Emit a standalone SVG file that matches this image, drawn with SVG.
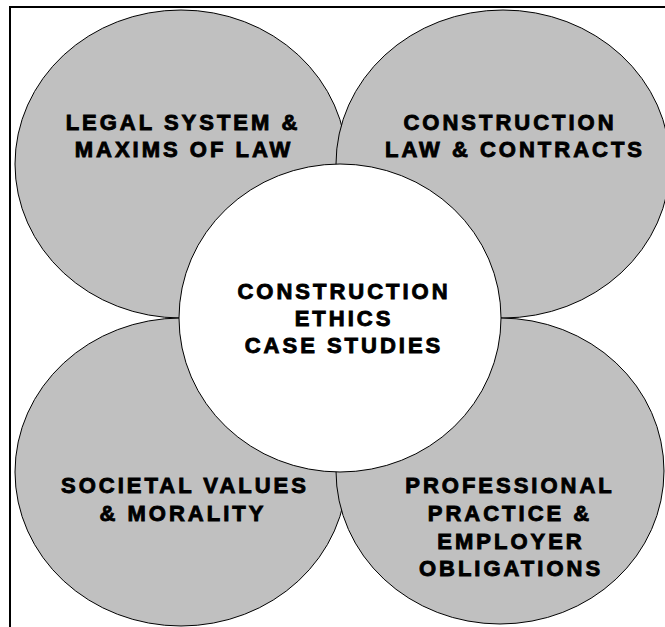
<svg xmlns="http://www.w3.org/2000/svg" width="665" height="627" viewBox="0 0 665 627">
<style>
.c{fill:#c0c0c0;stroke:#000;stroke-width:1}
.m{fill:#fff;stroke:#000;stroke-width:1}
.t{font-family:"Liberation Sans",Arial,sans-serif;font-weight:bold;font-size:22px;letter-spacing:3px;text-anchor:middle;fill:#000;stroke:#000;stroke-width:0.9}
</style>
<rect x="0" y="0" width="665" height="627" fill="#fff"/>
<rect x="10" y="7" width="700" height="700" fill="none" stroke="#000" stroke-width="2"/>
<g id="legal">
<ellipse class="c" cx="181" cy="164" rx="166" ry="154"/>
<text class="t" x="183" y="130">LEGAL SYSTEM &amp;</text>
<text class="t" x="184" y="157">MAXIMS OF LAW</text>
</g>
<g id="construction-law">
<ellipse class="c" cx="503" cy="164" rx="167" ry="154"/>
<text class="t" x="510" y="130">CONSTRUCTION</text>
<text class="t" x="515" y="157">LAW &amp; CONTRACTS</text>
</g>
<g id="societal">
<ellipse class="c" cx="181" cy="472" rx="166" ry="154"/>
<text class="t" x="185" y="493">SOCIETAL VALUES</text>
<text class="t" x="183" y="521">&amp; MORALITY</text>
</g>
<g id="professional">
<ellipse class="c" cx="500" cy="471" rx="164" ry="153"/>
<text class="t" x="510" y="493">PROFESSIONAL</text>
<text class="t" x="510" y="521">PRACTICE &amp;</text>
<text class="t" x="511" y="549">EMPLOYER</text>
<text class="t" x="511" y="576">OBLIGATIONS</text>
</g>
<g id="center">
<ellipse class="m" cx="340" cy="318" rx="161" ry="154"/>
<text class="t" x="344" y="299">CONSTRUCTION</text>
<text class="t" x="344" y="326">ETHICS</text>
<text class="t" x="344" y="353">CASE STUDIES</text>
</g>
<g id="connectors"></g>
</svg>
